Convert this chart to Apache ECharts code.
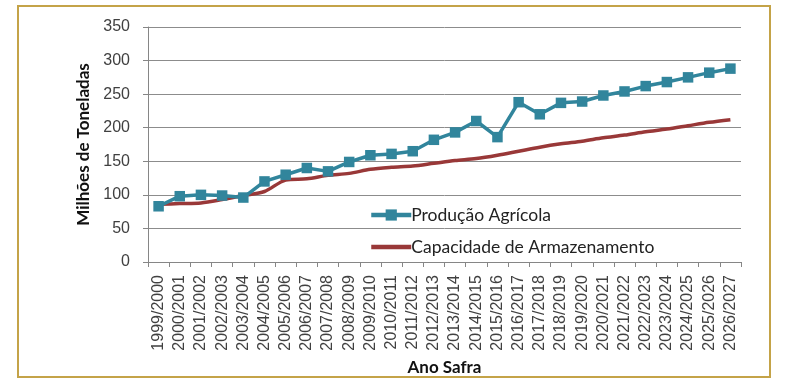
<!DOCTYPE html>
<html><head><meta charset="utf-8">
<script src="https://cdn.jsdelivr.net/npm/echarts@6/dist/echarts.min.js"></script>
<style>html,body{margin:0;padding:0;background:#fff}#c{width:790px;height:387px}</style>
</head><body><div id="c"></div>
<script>
var categories = ['1999/2000','2000/2001','2001/2002','2002/2003','2003/2004','2004/2005','2005/2006','2006/2007','2007/2008','2008/2009','2009/2010','2010/2011','2011/2012','2012/2013','2013/2014','2014/2015','2015/2016','2016/2017','2017/2018','2018/2019','2019/2020','2020/2021','2021/2022','2022/2023','2023/2024','2024/2025','2025/2026','2026/2027'];
var producao = [83, 98, 100, 99, 96, 120, 130, 140, 135, 149, 159, 161, 165, 182, 193, 210, 186, 238, 220, 237, 239, 248, 254, 262, 268, 275, 282, 288];
var capacidade = [86, 87, 88, 93, 99, 105, 122, 124, 129, 132, 138, 141, 143, 147, 151, 154, 159, 165, 171, 176, 180, 185, 189, 194, 198, 203, 208, 212];
var yTicks = [0, 50, 100, 150, 200, 250, 300, 350];

var chart = echarts.init(document.getElementById('c'));
chart.setOption({
  animation: false,
  backgroundColor: '#ffffff',
  graphic: [{
    type: 'rect', shape: {x: 18, y: 6, width: 752, height: 371},
    style: {fill: 'none', stroke: '#c4a348', lineWidth: 2}, silent: true
  }],
  grid: {left: 148, right: 49, top: 27, bottom: 125, containLabel: false},
  legend: {
    orient: 'vertical', left: 364, top: 200,
    itemWidth: 40, itemHeight: 14, itemGap: 12,
    textStyle: {fontFamily: 'Lato', fontSize: 17.5, color: '#222', lineHeight: 20, padding: [0,0,0,-5]},
    data: [
      {name: 'Produção Agrícola', lineStyle: {width: 4.5}},
      {name: 'Capacidade de Armazenamento', lineStyle: {width: 4.5}, itemStyle: {opacity: 0}}
    ]
  },
  xAxis: {
    type: 'category', data: categories, boundaryGap: true,
    name: 'Ano Safra', nameLocation: 'middle', nameGap: 95,
    nameTextStyle: {fontFamily: 'Lato', fontWeight: 'bold', fontSize: 17, color: '#111'},
    axisLine: {lineStyle: {color: '#868686', width: 1}},
    axisTick: {show: true, length: 5, lineStyle: {color: '#868686'}},
    axisLabel: {rotate: 90, interval: 0, margin: 13, fontFamily: 'Liberation Sans', fontSize: 16, color: '#404040'}
  },
  yAxis: {
    type: 'value', min: 0, max: 350, interval: 50,
    name: 'Milhões de Toneladas', nameLocation: 'middle', nameGap: 54,
    nameTextStyle: {fontFamily: 'Lato', fontWeight: 'bold', fontSize: 17, color: '#111'},
    axisLine: {show: true, lineStyle: {color: '#868686', width: 1}},
    axisTick: {show: true, length: 5, lineStyle: {color: '#868686'}},
    splitLine: {lineStyle: {color: '#8c8c8c', width: 1}},
    axisLabel: {margin: 18, fontFamily: 'Liberation Sans', fontSize: 16, color: '#404040',
      formatter: function (v) { return yTicks.indexOf(v) >= 0 ? String(v) : ''; }}
  },
  series: [{
    name: 'Produção Agrícola', type: 'line', data: producao,
    symbol: 'rect', symbolSize: 10.5,
    lineStyle: {color: '#31859c', width: 3.5},
    itemStyle: {color: '#31859c'}, z: 3
  }, {
    name: 'Capacidade de Armazenamento', type: 'line', data: capacidade,
    symbol: 'none', smooth: 0.3,
    lineStyle: {color: '#993838', width: 3.5},
    itemStyle: {color: '#993838'}, z: 2
  }]
});
</script></body></html>
